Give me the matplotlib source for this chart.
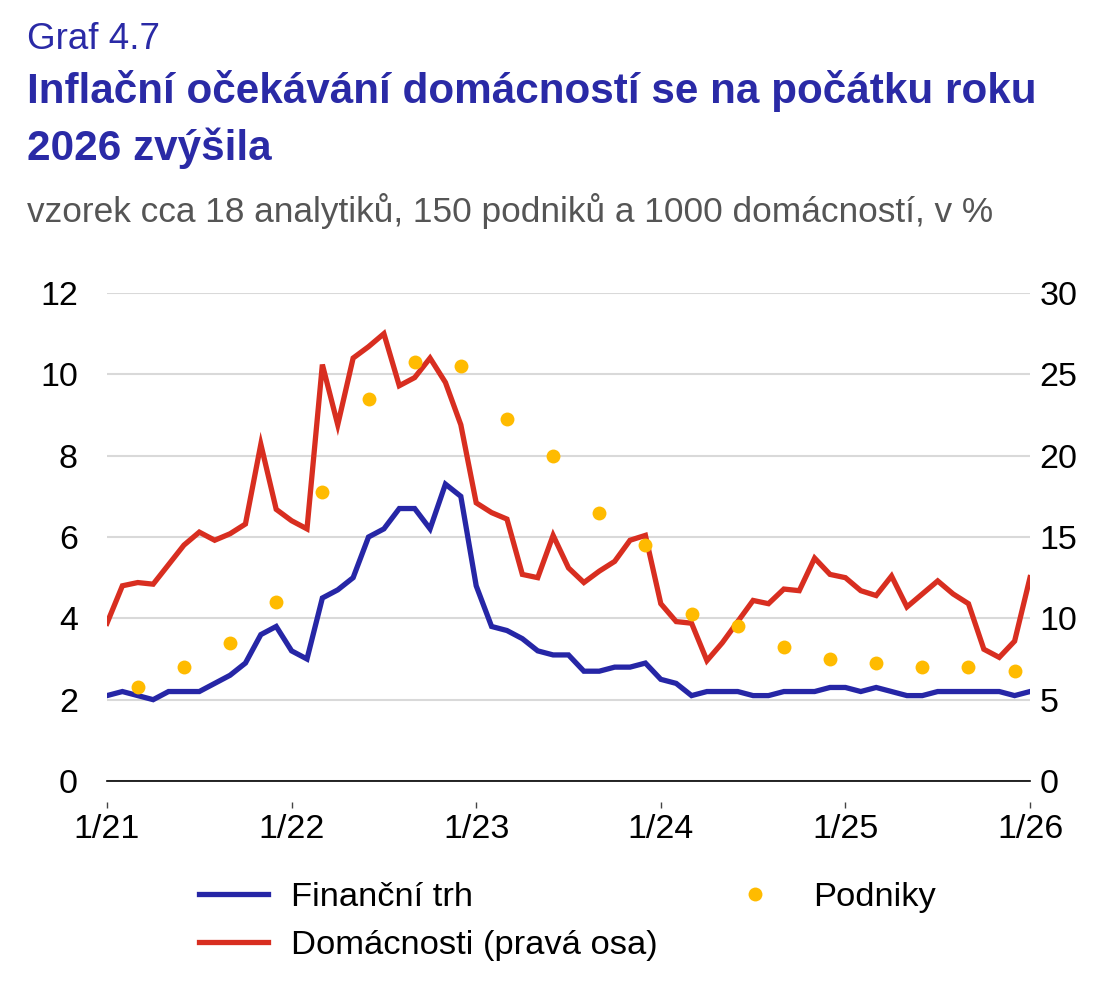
import numpy as np
import matplotlib.pyplot as plt
from matplotlib.lines import Line2D

plt.rcParams['font.family'] = ['Liberation Sans', 'DejaVu Sans']

# monthly data 1/2021 - 1/2026
financni_trh = [2.1, 2.2, 2.1, 2.0, 2.2, 2.2, 2.2, 2.4, 2.6, 2.9, 3.6, 3.8,
                3.2, 3.0, 4.5, 4.7, 5.0, 6.0, 6.2, 6.7, 6.7, 6.2, 7.3, 7.0,
                4.8, 3.8, 3.7, 3.5, 3.2, 3.1, 3.1, 2.7, 2.7, 2.8, 2.8, 2.9,
                2.5, 2.4, 2.1, 2.2, 2.2, 2.2, 2.1, 2.1, 2.2, 2.2, 2.2, 2.3,
                2.3, 2.2, 2.3, 2.2, 2.1, 2.1, 2.2, 2.2, 2.2, 2.2, 2.2, 2.1,
                2.2]
domacnosti = [9.7, 12.0, 12.2, 12.1, 13.3, 14.5, 15.3, 14.8, 15.2, 15.8, 20.7, 16.7,
              16.0, 15.5, 25.6, 21.9, 26.0, 26.7, 27.5, 24.3, 24.8, 26.0, 24.5, 21.9,
              17.1, 16.5, 16.1, 12.7, 12.5, 15.1, 13.1, 12.2, 12.9, 13.5, 14.8, 15.1,
              10.9, 9.8, 9.7, 7.4, 8.5, 9.8, 11.1, 10.9, 11.8, 11.7, 13.7, 12.7,
              12.5, 11.7, 11.4, 12.6, 10.7, 11.5, 12.3, 11.5, 10.9, 8.1, 7.6, 8.6,
              12.5]
# quarterly survey (March, June, Sept, Dec)
podniky_mesic = list(range(2, 60, 3))
podniky = [2.3, 2.8, 3.4, 4.4, 7.1, 9.4, 10.3, 10.2, 8.9, 8.0,
           6.6, 5.8, 4.1, 3.8, 3.3, 3.0, 2.9, 2.8, 2.8, 2.7]

tick_mesice = [0, 12, 24, 36, 48, 60]
tick_popisky = ['1/21', '1/22', '1/23', '1/24', '1/25', '1/26']

modra = '#2626A6'
cervena = '#D82E20'
zluta = '#FFBB00'
nadpis_barva = '#2A2AA6'

fig = plt.figure(figsize=(11.16, 9.93), dpi=100)
ax = fig.add_axes([107 / 1116, 1 - 781 / 993, (1030 - 107) / 1116, (781 - 293) / 993])
ax2 = ax.twinx()
ax.set_zorder(ax2.get_zorder() + 1)
ax.patch.set_visible(False)

mesice = np.arange(len(financni_trh))
ax2.plot(mesice, domacnosti, color=cervena, lw=3.8, solid_joinstyle='miter',
         label='Domácnosti (pravá osa)')
ax.plot(mesice, financni_trh, color=modra, lw=3.8, solid_joinstyle='miter',
        label='Finanční trh')
ax.plot(podniky_mesic, podniky, 'o', color=zluta, ms=10, mec='none', label='Podniky')

ax.set_xlim(0, 60)
ax.set_ylim(0, 12)
ax2.set_ylim(0, 30)
ax.set_yticks(range(0, 13, 2))
ax2.set_yticks(range(0, 31, 5))
ax.set_xticks(tick_mesice)
ax.set_xticklabels(tick_popisky)

ax2.yaxis.grid(True, color='#D9D9D9', lw=1.5)
ax2.set_axisbelow(True)
ax.axhline(0, color='black', lw=1.2, clip_on=False)

for a in (ax, ax2):
    for s in a.spines.values():
        s.set_visible(False)
ax.spines['bottom'].set_position(('outward', 15))

ax.tick_params(axis='y', length=0, pad=21, labelsize=24.5)
ax2.tick_params(axis='y', length=0, pad=7, labelsize=24.5)
ax.tick_params(axis='x', length=4.5, width=1, color='#444444', pad=4.5, labelsize=24.5)

fig.text(27 / 1116, 1 - 49 / 993, 'Graf 4.7', fontsize=26.5, color=nadpis_barva, va='baseline')
fig.text(27 / 1116, 1 - 103 / 993, 'Inflační očekávání domácností se na počátku roku',
         fontsize=30.4, fontweight='bold', color=nadpis_barva, va='baseline')
fig.text(27 / 1116, 1 - 160 / 993, '2026 zvýšila',
         fontsize=30.4, fontweight='bold', color=nadpis_barva, va='baseline')
fig.text(27 / 1116, 1 - 222 / 993, 'vzorek cca 18 analytiků, 150 podniků a 1000 domácností, v %',
         fontsize=25.4, color='#555555', va='baseline')

h_fin = Line2D([], [], color=modra, lw=3.8)
h_dom = Line2D([], [], color=cervena, lw=3.8)
h_pod = Line2D([], [], ls='none', marker='o', color=zluta, ms=10, mec='none')
fig.legend([h_fin, h_dom], ['Finanční trh', 'Domácnosti (pravá osa)'],
           loc='upper left', bbox_to_anchor=(199 / 1116, 1 - 882 / 993),
           frameon=False, fontsize=24.8, handlelength=2.0, handletextpad=0.67,
           labelspacing=0.5, borderpad=0, borderaxespad=0)
fig.legend([h_pod], ['Podniky'],
           loc='upper left', bbox_to_anchor=(721 / 1116, 1 - 882 / 993),
           frameon=False, fontsize=24.8, handlelength=2.0, handletextpad=0.67,
           borderpad=0, borderaxespad=0)

fig.savefig('out.png', dpi=100)
